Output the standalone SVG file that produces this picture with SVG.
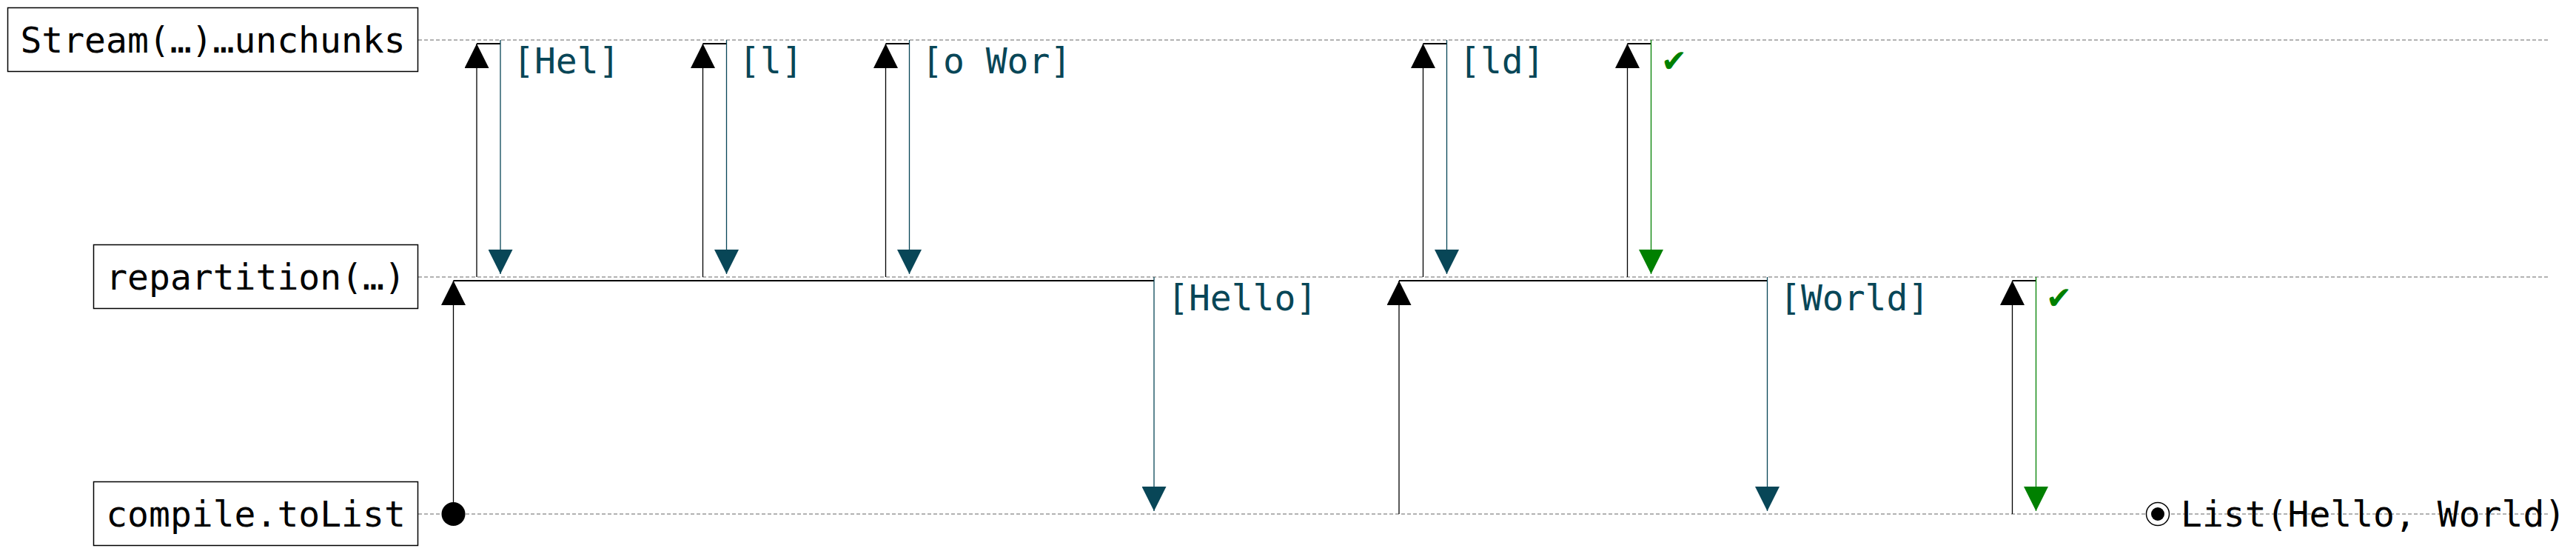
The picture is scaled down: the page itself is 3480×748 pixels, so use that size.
<svg xmlns="http://www.w3.org/2000/svg" width="3480" height="748" viewBox="0 0 3480 748">
  <style>
    text { font-family: "DejaVu Sans Mono", "Liberation Mono", monospace; font-size: 48px; }
    .box { fill: #ffffff; stroke: #000000; stroke-width: 1.5; }
    .name { fill: #000000; text-anchor: middle; }
    .life { stroke: #999999; stroke-width: 1.3; stroke-dasharray: 5 3; fill: none; }
    .up { stroke: #000000; stroke-width: 1.3; fill: none; marker-end: url(#headUp); }
    .hop { stroke: #000000; stroke-width: 2; fill: none; }
    .down { stroke: #084657; stroke-width: 1.3; fill: none; marker-end: url(#headTeal); }
    .done { stroke: #008000; stroke-width: 1.3; fill: none; marker-end: url(#headGreen); }
    .lbl { fill: #084657; }
    .ok { fill: #008000; }
  </style>
  <defs>
    <marker id="headUp" markerUnits="userSpaceOnUse" markerWidth="33" markerHeight="33" refX="33" refY="16.5" orient="auto" viewBox="0 0 33 33">
      <path d="M0,0 L33,16.5 L0,33 z" fill="#000000"/>
    </marker>
    <marker id="headTeal" markerUnits="userSpaceOnUse" markerWidth="33" markerHeight="33" refX="33" refY="16.5" orient="auto" viewBox="0 0 33 33">
      <path d="M0,0 L33,16.5 L0,33 z" fill="#084657"/>
    </marker>
    <marker id="headGreen" markerUnits="userSpaceOnUse" markerWidth="33" markerHeight="33" refX="33" refY="16.5" orient="auto" viewBox="0 0 33 33">
      <path d="M0,0 L33,16.5 L0,33 z" fill="#008000"/>
    </marker>
  </defs>
  <rect width="3480" height="748" fill="#ffffff"/>

  <g id="node-stream">
    <line class="life" x1="565" y1="54" x2="3445" y2="54"/>
    <rect class="box" x="10.5" y="10.5" width="554" height="86"/>
    <text class="name" x="287.5" y="71">Stream(…)…unchunks</text>
  </g>
  <g id="node-repartition">
    <line class="life" x1="565" y1="374" x2="3445" y2="374"/>
    <rect class="box" x="126.5" y="330.5" width="438" height="86"/>
    <text class="name" x="345.5" y="391">repartition(…)</text>
  </g>
  <g id="node-compile">
    <line class="life" x1="565" y1="694" x2="3445" y2="694"/>
    <rect class="box" x="126.5" y="650.5" width="438" height="86"/>
    <text class="name" x="345.5" y="711">compile.toList</text>
  </g>

  <g id="connectors">
    <!-- repartition pulls from stream -->
    <line class="up" x1="644" y1="374" x2="644" y2="59"/>
    <line class="hop" x1="644" y1="59" x2="676" y2="59"/>
    <line class="down" x1="676" y1="54" x2="676" y2="370"/>
    <text class="lbl" x="693" y="99">[Hel]</text>

    <line class="up" x1="949.5" y1="374" x2="949.5" y2="59"/>
    <line class="hop" x1="949.5" y1="59" x2="981.5" y2="59"/>
    <line class="down" x1="981.5" y1="54" x2="981.5" y2="370"/>
    <text class="lbl" x="998" y="99">[l]</text>

    <line class="up" x1="1196.5" y1="374" x2="1196.5" y2="59"/>
    <line class="hop" x1="1196.5" y1="59" x2="1228.5" y2="59"/>
    <line class="down" x1="1228.5" y1="54" x2="1228.5" y2="370"/>
    <text class="lbl" x="1245" y="99">[o Wor]</text>

    <line class="up" x1="1922.5" y1="374" x2="1922.5" y2="59"/>
    <line class="hop" x1="1922.5" y1="59" x2="1954.5" y2="59"/>
    <line class="down" x1="1954.5" y1="54" x2="1954.5" y2="370"/>
    <text class="lbl" x="1971" y="99">[ld]</text>

    <line class="up" x1="2198.5" y1="374" x2="2198.5" y2="59"/>
    <line class="hop" x1="2198.5" y1="59" x2="2230.5" y2="59"/>
    <line class="done" x1="2230.5" y1="54" x2="2230.5" y2="370"/>
    <text class="ok" x="2247" y="96">✔</text>

    <!-- compile pulls from repartition -->
    <circle cx="612.5" cy="694" r="16" fill="#000000"/>
    <line class="up" x1="612.5" y1="694" x2="612.5" y2="379"/>
    <line class="hop" x1="612.5" y1="379" x2="1559" y2="379"/>
    <line class="down" x1="1559" y1="374" x2="1559" y2="690"/>
    <text class="lbl" x="1577" y="419">[Hello]</text>

    <line class="up" x1="1890" y1="694" x2="1890" y2="379"/>
    <line class="hop" x1="1890" y1="379" x2="2387.5" y2="379"/>
    <line class="down" x1="2387.5" y1="374" x2="2387.5" y2="690"/>
    <text class="lbl" x="2404" y="419">[World]</text>

    <line class="up" x1="2718.5" y1="694" x2="2718.5" y2="379"/>
    <line class="hop" x1="2718.5" y1="379" x2="2750.5" y2="379"/>
    <line class="done" x1="2750.5" y1="374" x2="2750.5" y2="690"/>
    <text class="ok" x="2767" y="416">✔</text>
  </g>

  <g id="result">
    <circle cx="2915" cy="694" r="15.5" fill="#ffffff" stroke="#000000" stroke-width="1.5"/>
    <circle cx="2915" cy="694" r="9" fill="#000000"/>
    <text x="2946" y="711" fill="#000000">List(Hello, World)</text>
  </g>
</svg>
